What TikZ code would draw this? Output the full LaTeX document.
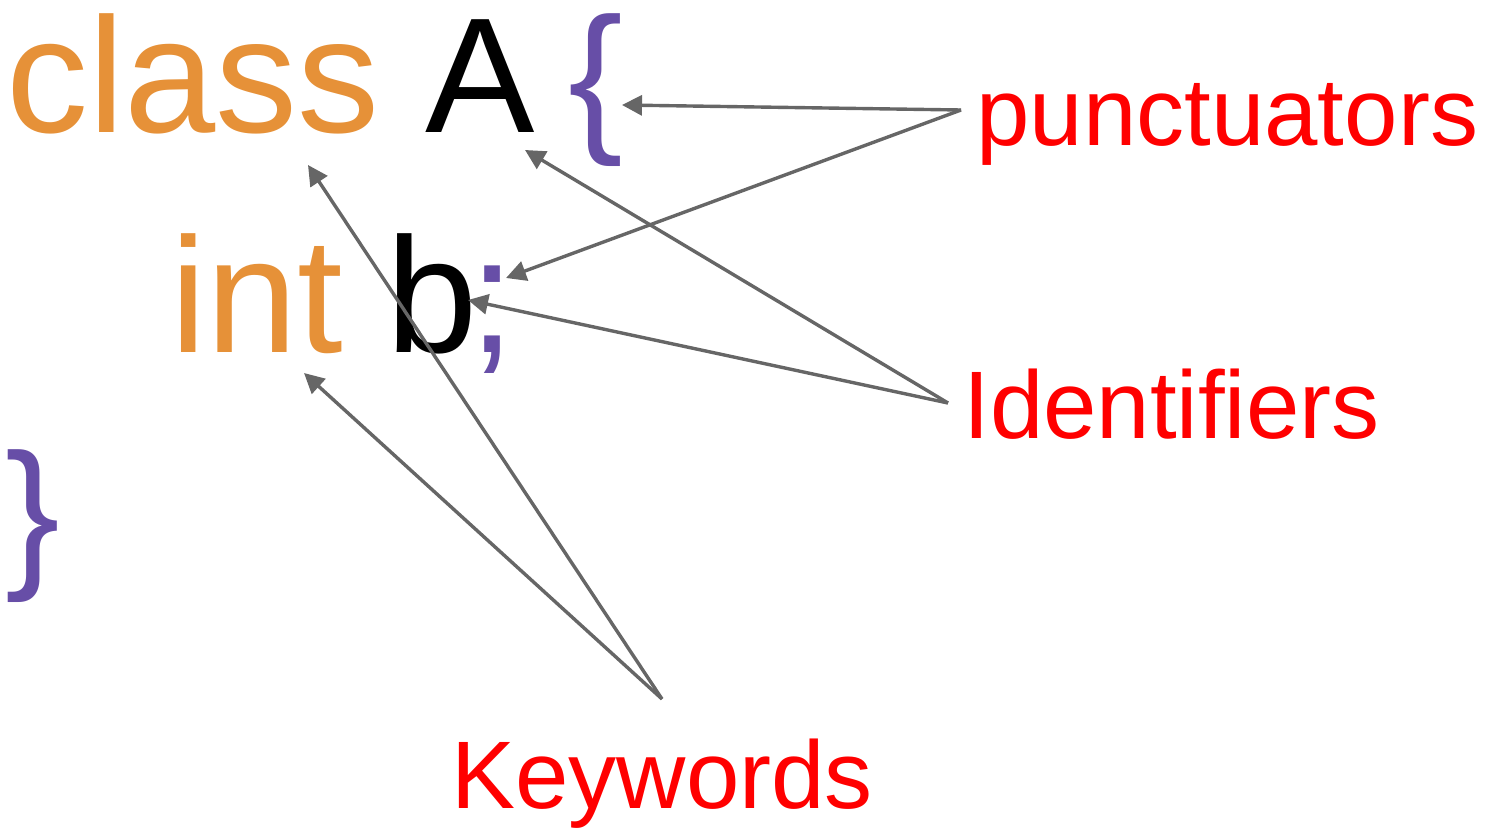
\documentclass[tikz,border=0pt]{standalone}
\usepackage{fontspec}
\setmainfont{Liberation Sans}
\usetikzlibrary{arrows.meta,positioning}
\definecolor{kwcolor}{HTML}{E69138}
\definecolor{pucolor}{HTML}{674EA7}
\definecolor{arrowgray}{HTML}{666666}

\begin{document}
\begin{tikzpicture}[x=0.5pt,y=-0.5pt,
  code/.style={inner sep=0pt,anchor=base west,font=\fontsize{82}{90}\selectfont},
  lbl/.style={inner sep=0pt,anchor=base west,text=red,font=\fontsize{48}{56}\selectfont},
  pointer/.style={->,>={Triangle[length=10pt,width=10pt]},draw=arrowgray,line width=1.7pt}]
  \useasboundingbox (0,0) rectangle (1487,829);
  % the code
  \node[code,text=kwcolor] (class) at (6,133) {class};
  \node[code] (A) at (425,133) {A};
  \node[code,text=pucolor] (lbrace) at (568,133) {\{};
  \node[code,text=kwcolor] (int) at (170,352) {int};
  \node[code] (b) at (386,352) {b};
  \node[code,text=pucolor] (semi) at (469,352) {;};
  \node[code,text=pucolor] (rbrace) at (5,568) {\}};
  % the labels
  \node[lbl] (punct) at (976,145) {punctuators};
  \node[lbl] (ident) at (963,438) {Identifiers};
  \node[lbl] (kw) at (451,808) {Keywords};
  % where the arrows meet
  \coordinate (P) at (961,110);
  \coordinate (I) at (948,403);
  \coordinate (K) at (662,699);
  \coordinate (lbrace-tip) at (622,105);
  \coordinate (semi-tip) at (506,278);
  \coordinate (A-tip) at (525,150);
  \coordinate (b-tip) at (468,300);
  \coordinate (class-tip) at (308,165);
  \coordinate (int-tip) at (304,373);
  \draw[pointer] (P) -- (lbrace-tip);
  \draw[pointer] (P) -- (semi-tip);
  \draw[pointer] (I) -- (A-tip);
  \draw[pointer] (I) -- (b-tip);
  \draw[pointer] (K) -- (class-tip);
  \draw[pointer] (K) -- (int-tip);
\end{tikzpicture}
\end{document}
